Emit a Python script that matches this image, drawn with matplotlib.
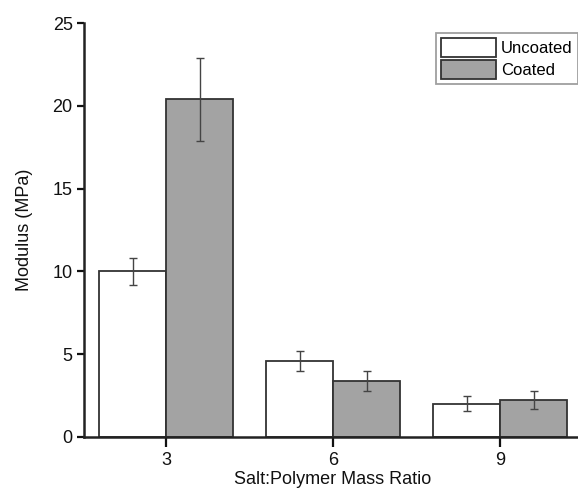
import numpy as np
import matplotlib.pyplot as plt

plt.rcParams['font.family'] = ['Liberation Sans', 'DejaVu Sans']

# data
ratios = [3, 6, 9]
uncoated = [10.0, 4.6, 2.0]
uncoated_err = [0.8, 0.6, 0.45]
coated = [20.4, 3.4, 2.25]
coated_err = [2.5, 0.6, 0.55]

x = np.array(ratios, dtype=float)
w = 1.2

fig = plt.figure(figsize=(5.78, 4.91), dpi=100)
ax = fig.add_axes([0.145, 0.11, 0.86, 0.843])

ax.bar(x - w / 2, uncoated, w, color='white', edgecolor='#333333', linewidth=1.3,
       label='Uncoated', zorder=2)
ax.bar(x + w / 2, coated, w, color='#a3a3a3', edgecolor='#333333', linewidth=1.3,
       label='Coated', zorder=2)
ax.errorbar(x - w / 2, uncoated, yerr=uncoated_err, fmt='none', ecolor='#444444',
            elinewidth=1, capsize=3, capthick=1, zorder=3)
ax.errorbar(x + w / 2, coated, yerr=coated_err, fmt='none', ecolor='#444444',
            elinewidth=1, capsize=3, capthick=1, zorder=3)

ax.set_xlim(1.52, 10.45)
ax.set_ylim(0, 25)
ax.set_xticks(ratios)
ax.set_yticks([0, 5, 10, 15, 20, 25])
ax.tick_params(axis='both', direction='out', labelsize=13, width=1.6,
               colors='#111111', pad=3)
ax.tick_params(axis='y', length=5)
ax.tick_params(axis='x', length=7, pad=4)

for s in ['top', 'right']:
    ax.spines[s].set_visible(False)
for s in ['left', 'bottom']:
    ax.spines[s].set_linewidth(1.8)
    ax.spines[s].set_color('#222222')

ax.set_xlabel('Salt:Polymer Mass Ratio', fontsize=13, labelpad=1, color='#111111')
ax.set_ylabel('Modulus (MPa)', fontsize=13, labelpad=14, color='#111111')

leg = ax.legend(loc='upper right', bbox_to_anchor=(1.0, 0.985), fontsize=12,
                frameon=True, fancybox=False, handlelength=3.3, handleheight=1.4,
                borderpad=0.3, labelspacing=0.2, handletextpad=0.3,
                borderaxespad=0.2)
leg.get_frame().set_edgecolor('#888888')
leg.get_frame().set_linewidth(1.3)

fig.savefig('out.png', dpi=100)
